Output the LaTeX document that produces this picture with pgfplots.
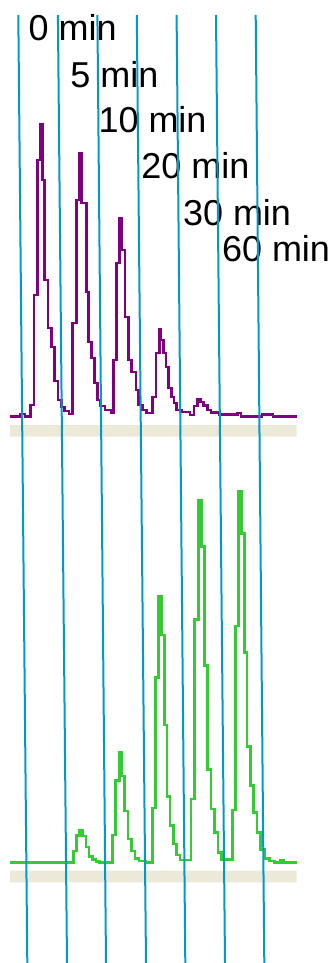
\documentclass[border=0pt]{standalone}
\usepackage{pgfplots}
\pgfplotsset{compat=1.18}
\usepackage{fontspec}
\setmainfont{Liberation Sans}
\definecolor{cblue}{RGB}{0,153,204}
\definecolor{cpurple}{RGB}{128,0,128}
\definecolor{cgreen}{RGB}{51,204,51}
\definecolor{cbeige}{RGB}{236,233,216}
\begin{document}
\begin{tikzpicture}
\begin{axis}[
  width=336bp, height=963bp, scale only axis,
  xmin=0, xmax=336, ymin=0, ymax=963, y dir=reverse,
  hide axis, clip=true,
]
% beige baseline bands
\addplot[fill=cbeige, draw=none] coordinates {(10,425) (296.7,425) (296.7,436.7) (10,436.7) (10,425)};
\addplot[fill=cbeige, draw=none] coordinates {(10,870.7) (296.7,870.7) (296.7,882.3) (10,882.3) (10,870.7)};
% purple trace
\addplot[cpurple, line width=2.7bp, const plot] coordinates {
(10,416.5) (20,414) (25,416.5) (30.7,405) (34,295) (37.3,160) (40.3,124) (42.3,180)
(44.7,280) (48,328) (51.3,347) (54.7,381) (58,400) (61.3,407) (64.5,411) (69,414)
(72.3,323) (76.5,200) (79.3,153) (81.3,203) (86.8,292) (88.3,342) (91.7,358) (94.3,383)
(97.3,400) (100.3,406) (105,410) (111.7,413) (113.3,360) (116.5,263) (119.3,218) (121.7,250)
(125,317) (128.3,360) (131.7,372) (136,390) (138.3,405) (142.3,410) (146.7,413) (152.7,397)
(156,353) (159.3,329) (161,340) (163.3,353) (166,367) (168.3,388) (171.7,397) (174,403)
(176.7,410) (181.7,412) (190,415) (194,406) (197.3,399) (200.3,402) (203.3,405.5) (207.5,410)
(211,412.5) (219,414.3) (237.5,413) (241,416.5) (262,414.3) (273,416.5) (296.7,416.5)
};
% green trace
\addplot[cgreen, line width=2.7bp, const plot] coordinates {
(10,862.7) (73.5,851) (76.7,835.5) (79.7,830.7) (82.7,836) (86,847) (89,856.7) (92.5,859.3)
(96,861.3) (99.5,862.7) (112.7,835) (115.7,780.7) (119.5,752.7) (121.5,776) (124.7,811) (128,839)
(131.5,851) (135,858.5) (139,861) (146,862.5) (152.7,808) (155.8,677.5) (158.8,596.7) (161.3,635)
(164.5,725) (167,796.5) (170,825.5) (173.3,844) (176.7,855) (180,860) (191,799) (194.7,619.3)
(198.3,500) (201.3,546.7) (204.5,665.5) (207.7,769.5) (211,809) (214.5,832.5) (218,852.5) (221.5,859.3)
(232.8,810) (235.5,626) (238.3,491.7) (241.2,533.7) (244.5,652.5) (247,746.5) (250.2,785.5) (253.7,812.7)
(257,832.7) (260.5,849.7) (264.2,858.3) (269.5,861) (274.5,862.7) (280.5,860) (283.5,862.7) (296.7,862.7)
};
% labels
\begin{scope}[every node/.style={anchor=base west, inner sep=0pt, font=\fontsize{36bp}{40bp}\selectfont}]
\node at (axis cs:28.5,40.7) {0 min};
\node at (axis cs:70.2,87.3) {5 min};
\node at (axis cs:98.3,132.7) {10 min};
\node at (axis cs:141.2,179) {20 min};
\node at (axis cs:182.8,225) {30 min};
\node at (axis cs:221.8,261.7) {60 min};
\end{scope}
% blue vertical lines
\addplot[cblue, line width=2bp] coordinates {(18.3,15) (27.3,963)};
\addplot[cblue, line width=2bp] coordinates {(57.9,15) (67,963)};
\addplot[cblue, line width=2bp] coordinates {(97.4,15) (106,963)};
\addplot[cblue, line width=2bp] coordinates {(136.8,15) (146,963)};
\addplot[cblue, line width=2bp] coordinates {(176.6,15) (185.3,963)};
\addplot[cblue, line width=2bp] coordinates {(216,15) (225,963)};
\addplot[cblue, line width=2bp] coordinates {(255.7,15) (264.3,963)};
\end{axis}
\path (current axis.south west) rectangle (current axis.north east);
\end{tikzpicture}
\end{document}
